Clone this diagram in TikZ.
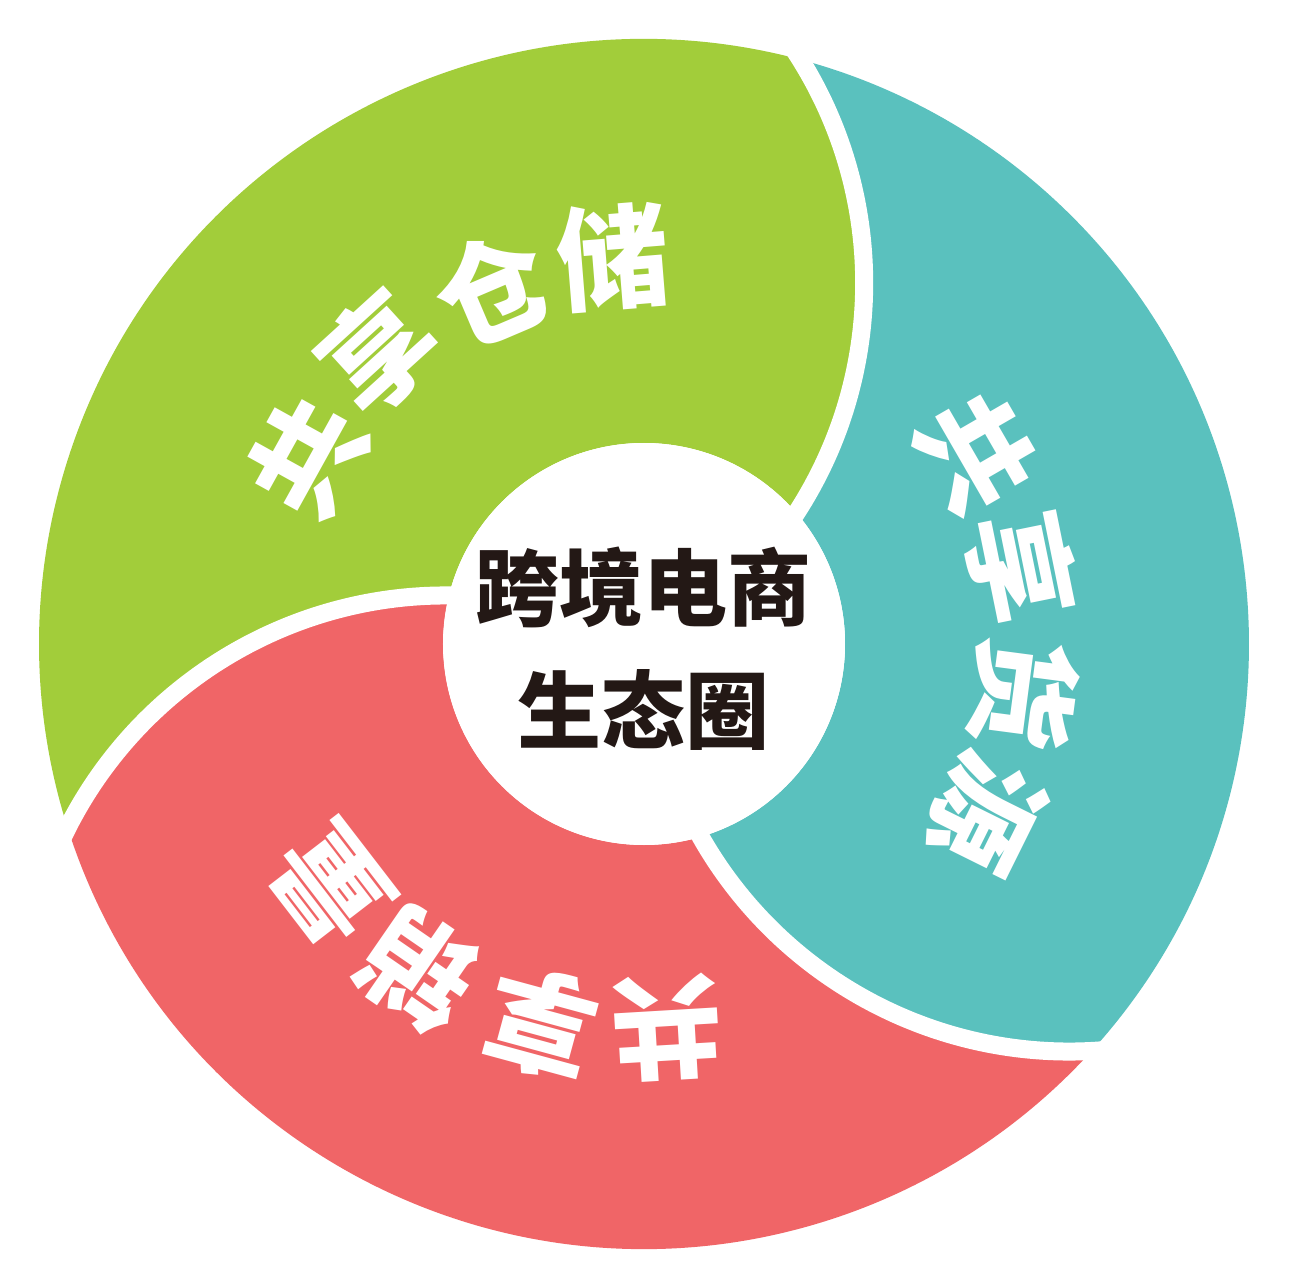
\documentclass[tikz,border=0pt]{standalone}
\usepackage{fontspec}
\newfontfamily\cjk{Noto Sans CJK SC Black}
\definecolor{cgreen}{HTML}{A2CD3A}
\definecolor{cteal}{HTML}{5AC1BE}
\definecolor{cred}{HTML}{F06567}
\definecolor{cdark}{HTML}{231815}
\begin{document}
\begin{tikzpicture}[x=1pt,y=1pt,
  lbl/.style={text=white, font=\cjk\fontsize{112}{112}\selectfont, inner sep=0pt},
  hubtext/.style={text=cdark, font=\cjk\fontsize{84}{84}\selectfont, inner sep=0pt},
  gapline/.style={draw=white, line width=18pt}]
\useasboundingbox (-644,-644) rectangle (644,644);
\fill[white] (-644,-644) rectangle (644,644);
% green segment
\fill[cgreen] (75.0:605pt)
  arc[start angle=75.0, end angle=197.68, radius=605pt]
  arc[start angle=153.08, end angle=89.62, radius=424.5pt]
  arc[start angle=166.04, end angle=40.7, radius=201pt]
  arc[start angle=-32.87, end angle=31.85, radius=423.4pt] -- cycle;
% teal segment
\fill[cteal] (-42.27:605pt)
  arc[start angle=-42.27, end angle=75.0, radius=605pt]
  arc[start angle=31.85, end angle=-32.87, radius=423.4pt]
  arc[start angle=40.7, end angle=-73.61, radius=201pt]
  arc[start angle=-150.39, end angle=-87.03, radius=424.3pt] -- cycle;
% red segment
\fill[cred] (197.68:605pt)
  arc[start angle=197.68, end angle=317.73, radius=605pt]
  arc[start angle=-87.03, end angle=-150.39, radius=424.3pt]
  arc[start angle=286.39, end angle=166.04, radius=201pt]
  arc[start angle=89.62, end angle=153.08, radius=424.5pt] -- cycle;
% centres of the boundary arcs
\coordinate (c1) at (-203.2,360.9);
\coordinate (c2) at (-197.9,-376.0);
\coordinate (c3) at (425.6,16.8);
% white gaps
\draw[gapline] (c1) ++(40:423.4pt) arc[start angle=40, end angle=-40, radius=423.4pt];
\draw[gapline] (c2) ++(162:424.5pt) arc[start angle=162, end angle=80, radius=424.5pt];
\draw[gapline] (c3) ++(-80:424.3pt) arc[start angle=-80, end angle=-160, radius=424.3pt];
% hub
\node[circle, fill=white, minimum size=402pt, inner sep=0pt] (hub) at (0,0) {};
\node[hubtext] (h1) at (0,57) {跨境电商};
\node[hubtext] (h2) at (0,-66) {生态圈};
% green labels
\node[lbl, rotate=61.0] (g1) at (151.0:384pt) {共};
\node[lbl, rotate=42.3] (g2) at (132.3:395pt) {享};
\node[lbl, rotate=23.1] (g3) at (113.1:387pt) {仓};
\node[lbl, rotate=4.6]  (g4) at (94.6:388pt) {储};
% teal labels
\node[lbl, rotate=-60.0] (t1) at (30.0:383pt) {共};
\node[lbl, rotate=-78.5] (t2) at (11.5:386pt) {享};
\node[lbl, rotate=-97.5] (t3) at (-7.5:383pt) {货};
\node[lbl, rotate=-116.4] (t4) at (-26.4:382pt) {源};
% red labels
\node[lbl, rotate=-176.6] (r1) at (-86.6:385pt) {共};
\node[lbl, rotate=-195.2] (r2) at (-105.2:393pt) {享};
\node[lbl, rotate=-214.6] (r3) at (-124.6:396pt) {销};
\node[lbl, rotate=-232.4] (r4) at (-142.4:395pt) {量};
\end{tikzpicture}
\end{document}
